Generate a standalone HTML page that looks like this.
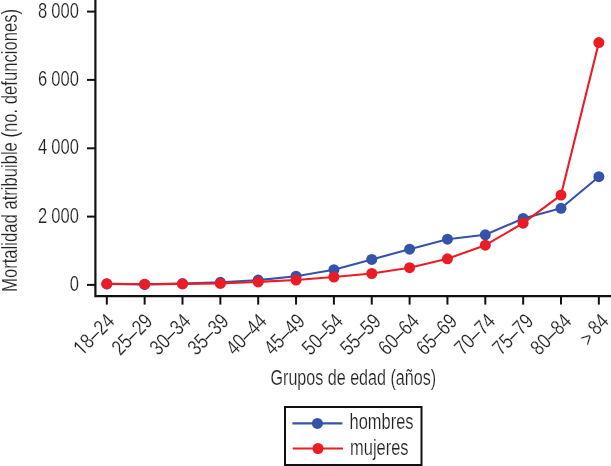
<!DOCTYPE html><html><head><meta charset="utf-8"><style>html,body{margin:0;padding:0;background:#fff;}svg{display:block;}text{font-family:"Liberation Sans",sans-serif;fill:#222222;stroke:#fff;stroke-width:0.2px;filter:grayscale(1);}</style></head><body>
<svg width="611" height="466" viewBox="0 0 611 466">
<rect width="611" height="466" fill="#fff"/>
<path d="M95.4,0 V296.1 H611" fill="none" stroke="#111" stroke-width="2.2" stroke-linejoin="miter"/>
<line x1="87" y1="11.6" x2="95.4" y2="11.6" stroke="#111" stroke-width="2"/>
<line x1="87" y1="79.9" x2="95.4" y2="79.9" stroke="#111" stroke-width="2"/>
<line x1="87" y1="148.3" x2="95.4" y2="148.3" stroke="#111" stroke-width="2"/>
<line x1="87" y1="216.6" x2="95.4" y2="216.6" stroke="#111" stroke-width="2"/>
<line x1="87" y1="284.9" x2="95.4" y2="284.9" stroke="#111" stroke-width="2"/>
<line x1="106.80" y1="296.1" x2="106.80" y2="304.6" stroke="#111" stroke-width="2"/>
<line x1="144.65" y1="296.1" x2="144.65" y2="304.6" stroke="#111" stroke-width="2"/>
<line x1="182.50" y1="296.1" x2="182.50" y2="304.6" stroke="#111" stroke-width="2"/>
<line x1="220.35" y1="296.1" x2="220.35" y2="304.6" stroke="#111" stroke-width="2"/>
<line x1="258.20" y1="296.1" x2="258.20" y2="304.6" stroke="#111" stroke-width="2"/>
<line x1="296.05" y1="296.1" x2="296.05" y2="304.6" stroke="#111" stroke-width="2"/>
<line x1="333.90" y1="296.1" x2="333.90" y2="304.6" stroke="#111" stroke-width="2"/>
<line x1="371.75" y1="296.1" x2="371.75" y2="304.6" stroke="#111" stroke-width="2"/>
<line x1="409.60" y1="296.1" x2="409.60" y2="304.6" stroke="#111" stroke-width="2"/>
<line x1="447.45" y1="296.1" x2="447.45" y2="304.6" stroke="#111" stroke-width="2"/>
<line x1="485.30" y1="296.1" x2="485.30" y2="304.6" stroke="#111" stroke-width="2"/>
<line x1="523.15" y1="296.1" x2="523.15" y2="304.6" stroke="#111" stroke-width="2"/>
<line x1="561.00" y1="296.1" x2="561.00" y2="304.6" stroke="#111" stroke-width="2"/>
<line x1="598.85" y1="296.1" x2="598.85" y2="304.6" stroke="#111" stroke-width="2"/>
<text transform="translate(78.9,17.70) scale(0.759,1)" text-anchor="end" font-size="21.8">000</text>
<text transform="translate(47.2,17.70) scale(0.759,1)" text-anchor="end" font-size="21.8">8</text>
<text transform="translate(78.9,86.00) scale(0.759,1)" text-anchor="end" font-size="21.8">000</text>
<text transform="translate(47.2,86.00) scale(0.759,1)" text-anchor="end" font-size="21.8">6</text>
<text transform="translate(78.9,154.40) scale(0.759,1)" text-anchor="end" font-size="21.8">000</text>
<text transform="translate(47.2,154.40) scale(0.759,1)" text-anchor="end" font-size="21.8">4</text>
<text transform="translate(78.9,222.70) scale(0.759,1)" text-anchor="end" font-size="21.8">000</text>
<text transform="translate(47.2,222.70) scale(0.759,1)" text-anchor="end" font-size="21.8">2</text>
<text transform="translate(78.9,291.00) scale(0.759,1)" text-anchor="end" font-size="21.8">0</text>
<text transform="translate(16.9,291.9) rotate(-90) scale(0.785,1)" font-size="21.2">Mortalidad atribuible (no. defunciones)</text>
<g transform="translate(115.75,322.65) rotate(-45) scale(0.805,1)"><text text-anchor="end" font-size="21.2">24</text><rect x="-35.77" y="-6.05" width="12.40" height="1.3" fill="#222222"/><text x="-35.57" text-anchor="end" font-size="21.2">8</text><path fill="#222222" transform="translate(-59.149,0) scale(0.010352,-0.010352)" d="M530 0V1237L197 1010V1180L530 1409H681V0Z"/></g>
<g transform="translate(153.83,322.65) rotate(-45) scale(0.805,1)"><text text-anchor="end" font-size="21.2">29</text><rect x="-35.77" y="-6.05" width="12.40" height="1.3" fill="#222222"/><text x="-35.57" text-anchor="end" font-size="21.2">25</text></g>
<g transform="translate(191.91,322.65) rotate(-45) scale(0.805,1)"><text text-anchor="end" font-size="21.2">34</text><rect x="-35.77" y="-6.05" width="12.40" height="1.3" fill="#222222"/><text x="-35.57" text-anchor="end" font-size="21.2">30</text></g>
<g transform="translate(229.99,322.65) rotate(-45) scale(0.805,1)"><text text-anchor="end" font-size="21.2">39</text><rect x="-35.77" y="-6.05" width="12.40" height="1.3" fill="#222222"/><text x="-35.57" text-anchor="end" font-size="21.2">35</text></g>
<g transform="translate(268.07,322.65) rotate(-45) scale(0.805,1)"><text text-anchor="end" font-size="21.2">44</text><rect x="-35.77" y="-6.05" width="12.40" height="1.3" fill="#222222"/><text x="-35.57" text-anchor="end" font-size="21.2">40</text></g>
<g transform="translate(306.15,322.65) rotate(-45) scale(0.805,1)"><text text-anchor="end" font-size="21.2">49</text><rect x="-35.77" y="-6.05" width="12.40" height="1.3" fill="#222222"/><text x="-35.57" text-anchor="end" font-size="21.2">45</text></g>
<g transform="translate(344.23,322.65) rotate(-45) scale(0.805,1)"><text text-anchor="end" font-size="21.2">54</text><rect x="-35.77" y="-6.05" width="12.40" height="1.3" fill="#222222"/><text x="-35.57" text-anchor="end" font-size="21.2">50</text></g>
<g transform="translate(382.31,322.65) rotate(-45) scale(0.805,1)"><text text-anchor="end" font-size="21.2">59</text><rect x="-35.77" y="-6.05" width="12.40" height="1.3" fill="#222222"/><text x="-35.57" text-anchor="end" font-size="21.2">55</text></g>
<g transform="translate(420.39,322.65) rotate(-45) scale(0.805,1)"><text text-anchor="end" font-size="21.2">64</text><rect x="-35.77" y="-6.05" width="12.40" height="1.3" fill="#222222"/><text x="-35.57" text-anchor="end" font-size="21.2">60</text></g>
<g transform="translate(458.47,322.65) rotate(-45) scale(0.805,1)"><text text-anchor="end" font-size="21.2">69</text><rect x="-35.77" y="-6.05" width="12.40" height="1.3" fill="#222222"/><text x="-35.57" text-anchor="end" font-size="21.2">65</text></g>
<g transform="translate(496.55,322.65) rotate(-45) scale(0.805,1)"><text text-anchor="end" font-size="21.2">74</text><rect x="-35.77" y="-6.05" width="12.40" height="1.3" fill="#222222"/><text x="-35.57" text-anchor="end" font-size="21.2">70</text></g>
<g transform="translate(534.63,322.65) rotate(-45) scale(0.805,1)"><text text-anchor="end" font-size="21.2">79</text><rect x="-35.77" y="-6.05" width="12.40" height="1.3" fill="#222222"/><text x="-35.57" text-anchor="end" font-size="21.2">75</text></g>
<g transform="translate(572.71,322.65) rotate(-45) scale(0.805,1)"><text text-anchor="end" font-size="21.2">84</text><rect x="-35.77" y="-6.05" width="12.40" height="1.3" fill="#222222"/><text x="-35.57" text-anchor="end" font-size="21.2">80</text></g>
<g transform="translate(609.99,322.65) rotate(-45) scale(0.805,1)"><text text-anchor="end" font-size="21.2">84</text><text x="-27.92" y="2.0" text-anchor="end" font-size="21.2">&gt;</text></g>
<text transform="translate(270.5,384.6) scale(0.76,1)" font-size="21.2">Grupos de edad (años)</text>
<polyline points="106.80,283.9 144.65,284.4 182.50,283.6 220.35,282.3 258.20,280.1 296.05,276.2 333.90,269.7 371.75,259.4 409.60,249.2 447.45,239.2 485.30,234.8 523.15,218.5 561.00,208.3 598.85,176.7" fill="none" stroke="#3553ab" stroke-width="2.1" stroke-linejoin="round"/><circle cx="106.80" cy="283.9" r="5.5" fill="#3553ab"/><circle cx="144.65" cy="284.4" r="5.5" fill="#3553ab"/><circle cx="182.50" cy="283.6" r="5.5" fill="#3553ab"/><circle cx="220.35" cy="282.3" r="5.5" fill="#3553ab"/><circle cx="258.20" cy="280.1" r="5.5" fill="#3553ab"/><circle cx="296.05" cy="276.2" r="5.5" fill="#3553ab"/><circle cx="333.90" cy="269.7" r="5.5" fill="#3553ab"/><circle cx="371.75" cy="259.4" r="5.5" fill="#3553ab"/><circle cx="409.60" cy="249.2" r="5.5" fill="#3553ab"/><circle cx="447.45" cy="239.2" r="5.5" fill="#3553ab"/><circle cx="485.30" cy="234.8" r="5.5" fill="#3553ab"/><circle cx="523.15" cy="218.5" r="5.5" fill="#3553ab"/><circle cx="561.00" cy="208.3" r="5.5" fill="#3553ab"/><circle cx="598.85" cy="176.7" r="5.5" fill="#3553ab"/>
<polyline points="106.80,283.8 144.65,284.2 182.50,283.9 220.35,283.4 258.20,281.9 296.05,280.0 333.90,277.0 371.75,273.5 409.60,267.7 447.45,258.8 485.30,245.2 523.15,223.2 561.00,195.1 598.85,42.6" fill="none" stroke="#ec1c25" stroke-width="2.1" stroke-linejoin="round"/><circle cx="106.80" cy="283.8" r="5.5" fill="#ec1c25"/><circle cx="144.65" cy="284.2" r="5.5" fill="#ec1c25"/><circle cx="182.50" cy="283.9" r="5.5" fill="#ec1c25"/><circle cx="220.35" cy="283.4" r="5.5" fill="#ec1c25"/><circle cx="258.20" cy="281.9" r="5.5" fill="#ec1c25"/><circle cx="296.05" cy="280.0" r="5.5" fill="#ec1c25"/><circle cx="333.90" cy="277.0" r="5.5" fill="#ec1c25"/><circle cx="371.75" cy="273.5" r="5.5" fill="#ec1c25"/><circle cx="409.60" cy="267.7" r="5.5" fill="#ec1c25"/><circle cx="447.45" cy="258.8" r="5.5" fill="#ec1c25"/><circle cx="485.30" cy="245.2" r="5.5" fill="#ec1c25"/><circle cx="523.15" cy="223.2" r="5.5" fill="#ec1c25"/><circle cx="561.00" cy="195.1" r="5.5" fill="#ec1c25"/><circle cx="598.85" cy="42.6" r="5.5" fill="#ec1c25"/>
<rect x="285" y="407.0" width="136.5" height="58.0" fill="none" stroke="#111" stroke-width="2"/>
<line x1="292.4" y1="423.4" x2="342.4" y2="423.4" stroke="#3553ab" stroke-width="2.1"/><circle cx="317.4" cy="423.4" r="5.5" fill="#3553ab"/>
<line x1="292.8" y1="448.5" x2="343.0" y2="448.5" stroke="#ec1c25" stroke-width="2.1"/><circle cx="318" cy="448.5" r="5.5" fill="#ec1c25"/>
<text transform="translate(349.6,429.2) scale(0.775,1)" font-size="21.2">hombres</text>
<text transform="translate(350.1,454.5) scale(0.775,1)" font-size="21.2">mujeres</text>
</svg></body></html>
